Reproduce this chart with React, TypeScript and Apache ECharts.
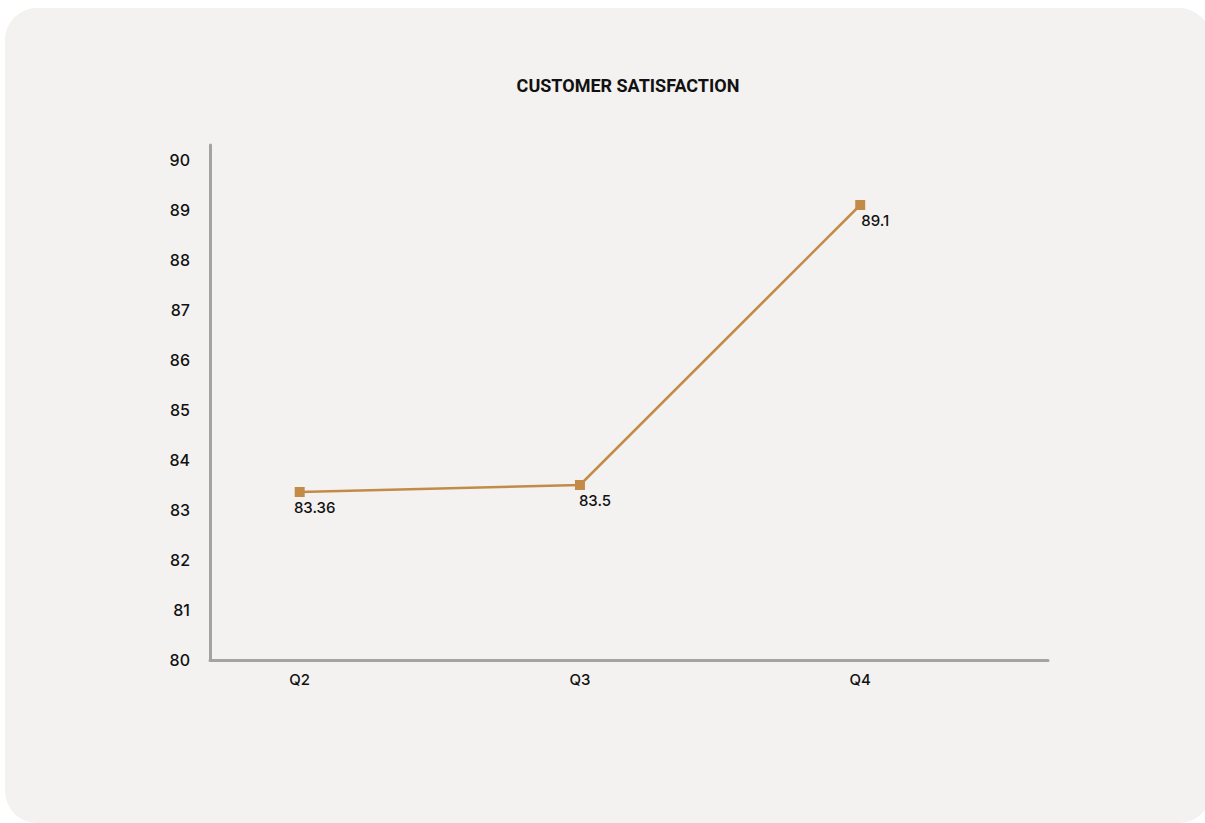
import React, { useEffect, useRef } from "react";
import * as echarts from "echarts";

const title = "CUSTOMER SATISFACTION";
const categories = ["Q2", "Q3", "Q4"];
const satisfaction = [83.36, 83.5, 89.1];
const yMin = 80;
const yMax = 90;

export default function App() {
  const ref = useRef<HTMLDivElement>(null);

  useEffect(() => {
    if (!ref.current) return;
    const chart = echarts.init(ref.current, null, { renderer: "svg" });
    const lineColor = "#c28c48";
    const axisColor = "#a3a3a3";
    chart.setOption({
      animation: false,
      backgroundColor: "transparent",
      title: {
        text: title,
        left: 623,
        top: 71,
        textAlign: "center",
        textStyle: {
          fontFamily: "Roboto",
          fontWeight: "bold",
          fontSize: 18,
          color: "#111",
        },
      },
      grid: { left: 210, right: 157, top: 145, bottom: 163 },
      xAxis: {
        type: "value",
        min: -0.32,
        max: 2.67,
        splitLine: { show: false },
        axisTick: { show: false },
        axisLine: { show: true, onZero: false, lineStyle: { color: axisColor, width: 3 } },
        axisLabel: {
          showMinLabel: false,
          showMaxLabel: false,
          margin: 12,
          fontFamily: "Inter",
          fontWeight: 500,
          fontSize: 15,
          color: "#111",
          formatter: (v: number) => {
            const r = Math.round(v);
            return Math.abs(v - r) < 1e-6 && categories[r] ? categories[r] : "";
          },
        },
      },
      yAxis: {
        type: "value",
        min: yMin,
        max: yMax + 0.3,
        interval: 1,
        splitLine: { show: false },
        axisTick: { show: false },
        axisLine: { show: true, onZero: false, lineStyle: { color: axisColor, width: 3 } },
        axisLabel: {
          showMaxLabel: false,
          margin: 20,
          fontFamily: "Inter",
          fontWeight: 500,
          fontSize: 16,
          color: "#111",
          formatter: (v: number) => (Number.isInteger(v) && v <= yMax ? String(v) : ""),
        },
      },
      series: [
        {
          type: "line",
          data: satisfaction.map((v, i) => [i, v]),
          symbol: "rect",
          symbolSize: 10,
          itemStyle: { color: lineColor },
          lineStyle: { color: lineColor, width: 2.5 },
          label: {
            show: true,
            position: "bottom",
            distance: 3,
            offset: [15, 0],
            fontFamily: "Inter",
            fontWeight: 500,
            fontSize: 15,
            color: "#111",
            formatter: (p: any) => String(p.value[1]),
          },
        },
      ],
    });
    return () => chart.dispose();
  }, []);

  return (
    <div
      style={{
        position: "fixed",
        left: 0,
        top: 0,
        width: 1205,
        height: 823,
        overflow: "hidden",
        background: "#ffffff",
      }}
    >
      <div
        style={{
          position: "absolute",
          left: 5,
          top: 8,
          width: 1206,
          height: 815,
          background: "#f3f2f0",
          borderRadius: 32,
        }}
      />
      <div ref={ref} style={{ position: "absolute", left: 0, top: 0, width: 1205, height: 823 }} />
    </div>
  );
}
